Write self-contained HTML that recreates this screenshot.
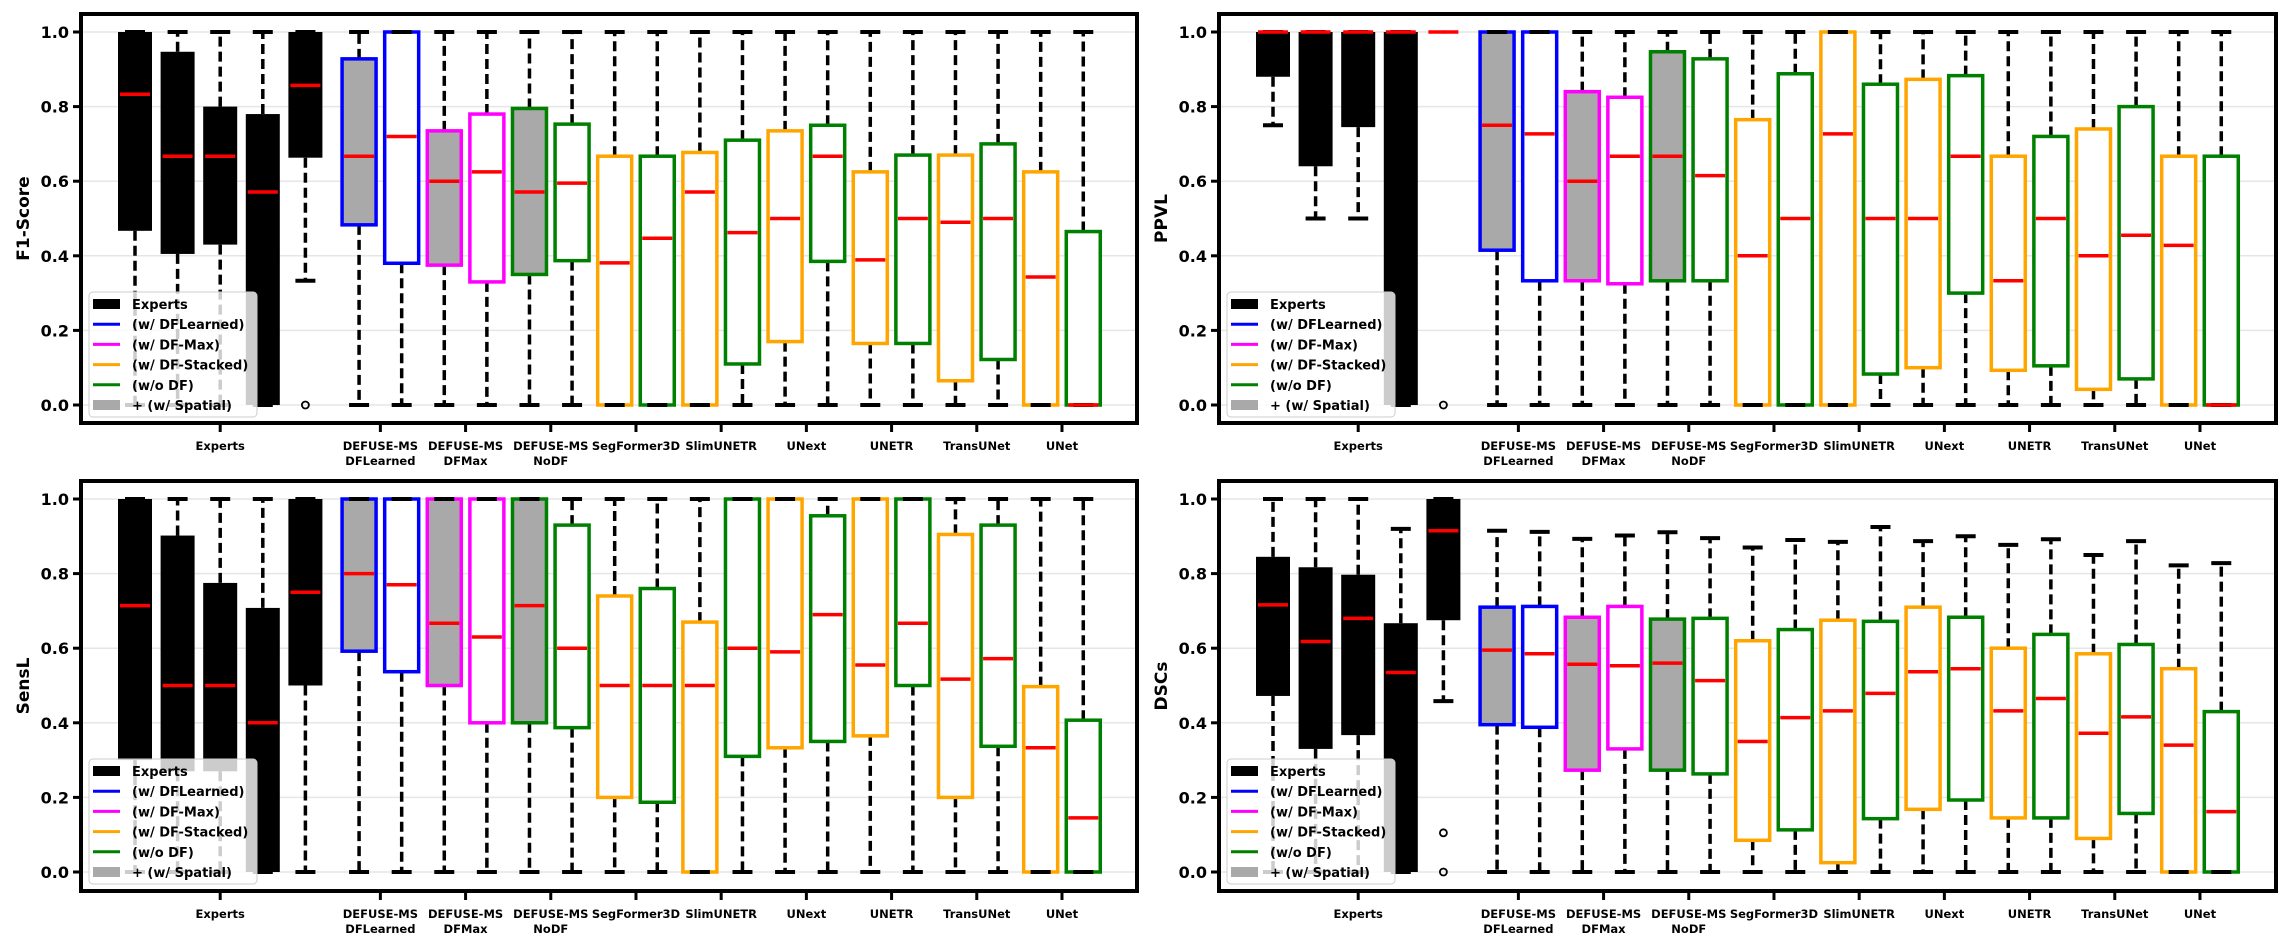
<!DOCTYPE html>
<html><head><meta charset="utf-8"><style>
html,body{margin:0;padding:0;background:#fff;}
svg{display:block;font-family:"DejaVu Sans","Liberation Sans",sans-serif;font-weight:bold;}
</style></head><body>
<svg id="fig" width="2290" height="947" viewBox="0 0 2290 947" xmlns="http://www.w3.org/2000/svg"></svg>
<script>
const tickGroups = ["Experts","DEFUSE-MS\nDFLearned","DEFUSE-MS\nDFMax","DEFUSE-MS\nNoDF","SegFormer3D","SlimUNETR","UNext","UNETR","TransUNet","UNet"];
const yTicks = [0.0,0.2,0.4,0.6,0.8,1.0];
const yTickLabels = ["0.0","0.2","0.4","0.6","0.8","1.0"];
const legendLabels = ["Experts","(w/ DFLearned)","(w/ DF-Max)","(w/ DF-Stacked)","(w/o DF)","+ (w/ Spatial)"];

// F1-Score
const f1Lo  = [0,0,0,0,0.333, 0,0,0,0,0,0, 0,0,0,0,0,0, 0,0,0,0,0,0];
const f1Q1  = [0.467,0.405,0.43,0,0.663, 0.483,0.38,0.375,0.33,0.35,0.387, 0,0,0,0.11,0.17,0.385, 0.165,0.165,0.065,0.122,0,0];
const f1Med = [0.833,0.667,0.667,0.571,0.857, 0.667,0.72,0.6,0.625,0.571,0.595, 0.381,0.447,0.571,0.462,0.5,0.667, 0.389,0.5,0.49,0.5,0.343,0];
const f1Q3  = [1,0.947,0.8,0.78,1, 0.928,1,0.735,0.78,0.795,0.753, 0.667,0.667,0.677,0.71,0.735,0.75, 0.625,0.67,0.67,0.7,0.625,0.465];
const f1Hi  = [1,1,1,1,1, 1,1,1,1,1,1, 1,1,1,1,1,1, 1,1,1,1,1,1];
const f1Out = [[4,0]];

// PPVL
const ppLo  = [0.75,0.5,0.5,0,1, 0,0,0,0,0,0, 0,0,0,0,0,0, 0,0,0,0,0,0];
const ppQ1  = [0.88,0.64,0.745,0,1, 0.415,0.333,0.333,0.325,0.333,0.333, 0,0,0,0.083,0.1,0.3, 0.093,0.105,0.042,0.07,0,0];
const ppMed = [1,1,1,1,1, 0.75,0.727,0.6,0.667,0.667,0.615, 0.4,0.5,0.727,0.5,0.5,0.667, 0.333,0.5,0.4,0.455,0.428,0];
const ppQ3  = [1,1,1,1,1, 1,1,0.84,0.825,0.947,0.928, 0.765,0.888,1,0.86,0.873,0.883, 0.667,0.72,0.74,0.8,0.667,0.667];
const ppHi  = [1,1,1,1,1, 1,1,1,1,1,1, 1,1,1,1,1,1, 1,1,1,1,1,1];
const ppOut = [[4,0]];

// SensL
const seLo  = [0,0,0,0,0, 0,0,0,0,0,0, 0,0,0,0,0,0, 0,0,0,0,0,0];
const seQ1  = [0.3,0.27,0.27,0,0.5, 0.592,0.537,0.5,0.4,0.4,0.387, 0.2,0.187,0,0.31,0.333,0.35, 0.365,0.5,0.2,0.337,0,0];
const seMed = [0.714,0.5,0.5,0.4,0.75, 0.8,0.77,0.667,0.63,0.714,0.6, 0.5,0.5,0.5,0.6,0.59,0.69, 0.555,0.667,0.517,0.572,0.333,0.145];
const seQ3  = [1,0.902,0.775,0.708,1, 1,1,1,1,1,0.93, 0.74,0.76,0.67,1,1,0.955, 1,1,0.905,0.93,0.497,0.407];
const seHi  = [1,1,1,1,1, 1,1,1,1,1,1, 1,1,1,1,1,1, 1,1,1,1,1,1];
const seOut = [];

// DSCs
const dsLo  = [0,0,0,0,0.458, 0,0,0,0,0,0, 0,0,0,0,0,0, 0,0,0,0,0,0];
const dsQ1  = [0.472,0.33,0.367,0,0.675, 0.395,0.388,0.273,0.33,0.273,0.263, 0.085,0.113,0.025,0.143,0.168,0.193, 0.145,0.145,0.09,0.157,0,0];
const dsMed = [0.716,0.618,0.68,0.535,0.915, 0.595,0.585,0.557,0.553,0.56,0.513, 0.35,0.414,0.432,0.479,0.537,0.545, 0.432,0.465,0.372,0.416,0.34,0.162];
const dsQ3  = [0.845,0.817,0.797,0.667,1, 0.71,0.712,0.683,0.712,0.678,0.68, 0.62,0.65,0.675,0.672,0.71,0.683, 0.6,0.637,0.585,0.61,0.545,0.43];
const dsHi  = [1,1,1,0.92,1, 0.915,0.912,0.893,0.902,0.911,0.895, 0.87,0.89,0.885,0.925,0.887,0.9, 0.877,0.892,0.85,0.887,0.822,0.828];
const dsOut = [[4,0.105],[4,0]];

const NS="http://www.w3.org/2000/svg";
const svg=document.getElementById('fig');
function el(tag,attrs,parent){const e=document.createElementNS(NS,tag);for(const k in attrs)e.setAttribute(k,attrs[k]);(parent||svg).appendChild(e);return e;}

const BLUE="#0000ff",MAG="#ff00ff",GRN="#008000",ORG="#ffa500";
function edgeColor(i){if(i<5)return "#000";const m=i-5;if(m<2)return BLUE;if(m<4)return MAG;if(m<6)return GRN;return (m%2===0)?ORG:GRN;}
function fillColor(i){if(i<5)return "#000";const m=i-5;return (m===0||m===2||m===4)?"#a9a9a9":"#fff";}
function pos(i){return i<5?i:5.26+(i-5);}
function tickPos(k){return k===0?2:5.26+2*(k-1)+0.5;}

function drawPanel(L,R,T,B,ylabel,lo,q1,med,q3,hi,out,pname){
  const g=el('g',{});
  
  
  const y0=T+391, yscale=373;
  const Y=v=>y0-v*yscale;
  const X=p=>L+54+42.6*p;
  yTicks.forEach((t,i)=>{
    const gl=el('line',{x1:L,x2:R,y1:Y(t),y2:Y(t),stroke:'#e6e6e6','stroke-width':1.5},g);
    
    
  });
  for(let i=0;i<med.length;i++){
    const cx=X(pos(i)),hw=17,ec=edgeColor(i);
    const bg=el('g',{},g);
    
    
    el('line',{x1:cx,x2:cx,y1:Y(q1[i]),y2:Y(lo[i]),stroke:'#000','stroke-width':3.5,'stroke-dasharray':'10,5'},bg);
    el('line',{x1:cx,x2:cx,y1:Y(q3[i]),y2:Y(hi[i]),stroke:'#000','stroke-width':3.5,'stroke-dasharray':'10,5'},bg);
    const h=Math.max(0.01,Y(q1[i])-Y(q3[i]));
    el('rect',{x:cx-hw,y:Y(q3[i]),width:2*hw,height:h,fill:fillColor(i),stroke:ec,'stroke-width':i<5?0:3.5},bg);
    if(!(i===4&&lo[i]===1)){
      el('line',{x1:cx-10,x2:cx+10,y1:Y(lo[i]),y2:Y(lo[i]),stroke:'#000','stroke-width':4},bg);
      el('line',{x1:cx-10,x2:cx+10,y1:Y(hi[i]),y2:Y(hi[i]),stroke:'#000','stroke-width':4},bg);
    }
    el('line',{x1:cx-15,x2:cx+15,y1:Y(med[i]),y2:Y(med[i]),stroke:'#ff0000','stroke-width':3.5},bg);
  }
  out.forEach(o=>{
    const c=el('circle',{cx:X(pos(o[0])),cy:Y(o[1]),r:3.5,fill:'none',stroke:'#000','stroke-width':1.8},g);
    
    
  });
  const fr=el('rect',{x:L,y:T,width:R-L,height:B-T,fill:'none',stroke:'#000','stroke-width':4},g);
  
  
  yTicks.forEach((t,i)=>{
    el('line',{x1:L-8,x2:L,y1:Y(t),y2:Y(t),stroke:'#000','stroke-width':3},g);
    const tx=el('text',{x:L-12,y:Y(t)+6,'text-anchor':'end','font-size':16},g);
    tx.textContent=yTickLabels[i];
    
    
  });
  const yl=el('text',{x:0,y:0,'text-anchor':'middle','font-size':17,transform:`translate(${L-52},${(T+B)/2}) rotate(-90)`},g);
  yl.textContent=ylabel;
  
  
  tickGroups.forEach((lab,k)=>{
    const tx=X(tickPos(k));
    el('line',{x1:tx,x2:tx,y1:B,y2:B+9,stroke:'#000','stroke-width':3},g);
    lab.split('\n').forEach((ln,j)=>{
      const t=el('text',{x:tx,y:B+27+j*15,'text-anchor':'middle','font-size':11.5},g);
      t.textContent=ln;
      
      
    });
  });
  const lx=L+8,ly=T+278;
  const lg=el('g',{},g);
  
  
  el('rect',{x:lx,y:ly,width:168,height:125,rx:4,fill:'#fff','fill-opacity':0.8,stroke:'#cccccc','stroke-width':1},lg);
  const cols=['#000',BLUE,MAG,ORG,GRN,'#a9a9a9'];
  legendLabels.forEach((lab,k)=>{
    const cy=ly+12+k*20.2;
    if(k===0||k===5) el('rect',{x:lx+4,y:cy-5,width:27,height:10,fill:cols[k]},lg);
    else el('line',{x1:lx+4,x2:lx+31,y1:cy,y2:cy,stroke:cols[k],'stroke-width':3},lg);
    const t=el('text',{x:lx+43,y:cy+5,'font-size':13},lg);
    t.textContent=lab;
    
    
  });
}
drawPanel(81,1137,14,423,"F1-Score",f1Lo,f1Q1,f1Med,f1Q3,f1Hi,f1Out,"f1");
drawPanel(1219,2276,14,423,"PPVL",ppLo,ppQ1,ppMed,ppQ3,ppHi,ppOut,"ppvl");
drawPanel(81,1137,481,891,"SensL",seLo,seQ1,seMed,seQ3,seHi,seOut,"sensl");
drawPanel(1219,2276,481,891,"DSCs",dsLo,dsQ1,dsMed,dsQ3,dsHi,dsOut,"dscs");
</script>
</body></html>
